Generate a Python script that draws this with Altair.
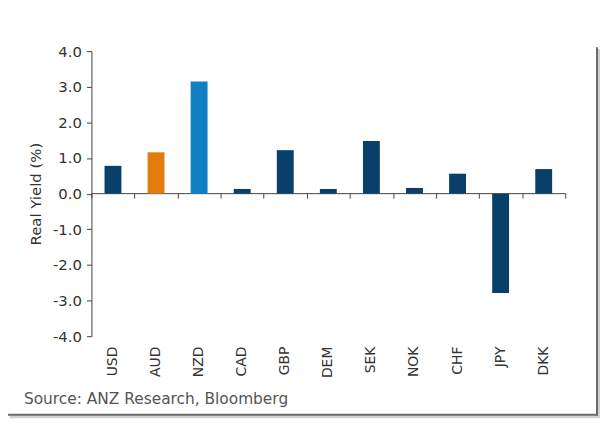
import altair as alt
import pandas as pd

currencies = ["USD", "AUD", "NZD", "CAD", "GBP", "DEM", "SEK", "NOK", "CHF", "JPY", "DKK"]
real_yield = [0.78, 1.16, 3.15, 0.13, 1.22, 0.13, 1.48, 0.16, 0.56, -2.79, 0.69]
groups = ["other", "AUD", "NZD", "other", "other", "other", "other", "other", "other", "other", "other"]
y_ticks = [-4, -3, -2, -1, 0, 1, 2, 3, 4]
source_text = "Source: ANZ Research, Bloomberg"

df = pd.DataFrame({"cur": currencies, "val": real_yield, "grp": groups})

FONT = "DejaVu Sans"
TXT = "#333333"

bars = alt.Chart(df).mark_bar(size=17).encode(
    x=alt.X("cur:N", sort=currencies, title=None,
            scale=alt.Scale(paddingInner=0, paddingOuter=0),
            axis=alt.Axis(orient="bottom", domain=False, ticks=False, labelAngle=270,
                          labelAlign="right", labelBaseline="middle", labelPadding=10,
                          labelFont=FONT, labelFontSize=14, labelColor=TXT)),
    y=alt.Y("val:Q", title="Real Yield (%)",
            scale=alt.Scale(domain=[-4, 4], nice=False),
            axis=alt.Axis(values=y_ticks, grid=False, tickSize=5, labelOverlap=False,
                          labelExpr="(datum.value < 0 ? '-' : '') + format(abs(datum.value), '.1f')",
                          labelPadding=5, labelFont=FONT, labelFontSize=15, labelColor=TXT,
                          domainColor="#444444", tickColor="#444444",
                          titleFont=FONT, titleFontSize=15, titleFontWeight="normal",
                          titleColor=TXT, titlePadding=9)),
    color=alt.Color("grp:N", legend=None,
                    scale=alt.Scale(domain=["other", "AUD", "NZD"],
                                    range=["#08406a", "#e27c0c", "#0f80c2"])),
)

zero_axis = alt.Chart(df).mark_point(opacity=0).encode(
    x=alt.X("cur:N", sort=currencies, title=None,
            scale=alt.Scale(paddingInner=0, paddingOuter=0),
            axis=alt.Axis(orient="bottom", offset=-144, labels=False, tickBand="extent",
                          tickSize=5, domainColor="#444444", tickColor="#444444")),
)

frame_df = pd.DataFrame({"a": [0]})
shadow_r = alt.Chart(frame_df).mark_rule(color="#d0d0d0", strokeWidth=3).encode(
    x=alt.value(511), y=alt.value(-2), y2=alt.value(369))
shadow_b = alt.Chart(frame_df).mark_rule(color="#d0d0d0", strokeWidth=3).encode(
    x=alt.value(-82), x2=alt.value(512), y=alt.value(368))
frame_r = alt.Chart(frame_df).mark_rule(color="#6a6a6a", strokeWidth=2).encode(
    x=alt.value(509), y=alt.value(-4), y2=alt.value(367))
frame_b = alt.Chart(frame_df).mark_rule(color="#6a6a6a", strokeWidth=2).encode(
    x=alt.value(-84), x2=alt.value(510), y=alt.value(366))

source = alt.Chart(frame_df).mark_text(
    align="left", baseline="middle", font=FONT, fontSize=15.5, color="#555555"
).encode(x=alt.value(-68), y=alt.value(350), text=alt.value(source_text))

chart = alt.layer(bars, zero_axis, shadow_r, shadow_b, frame_r, frame_b, source).resolve_axis(
    x="independent"
).properties(
    width=477, height=287,
    autosize=alt.AutoSizeParams(type="none"),
    padding={"left": 84, "top": 42, "right": 35, "bottom": 85},
).configure_view(stroke=None)

chart.save("out.html", embed_options={"renderer": "svg", "actions": False})
